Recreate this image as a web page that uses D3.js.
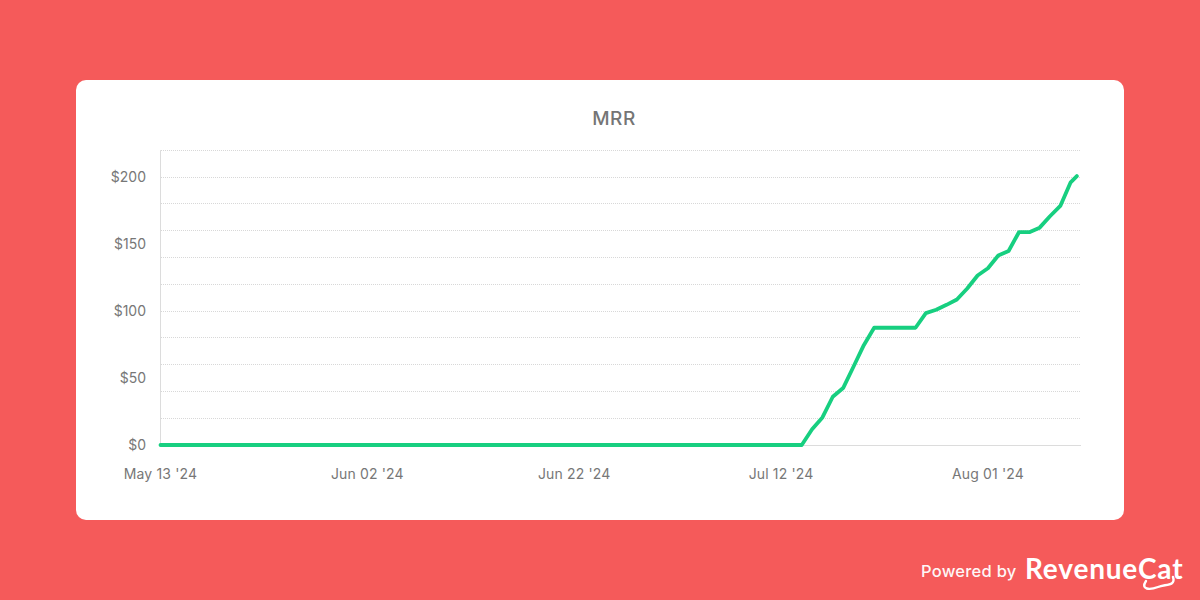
<!DOCTYPE html>
<html><head><meta charset="utf-8">
<script src="https://cdn.jsdelivr.net/npm/d3@7"></script>
<style>html,body{margin:0;padding:0;background:#F55A5A}svg{display:block}text{font-family:Inter,"Open Sans",sans-serif}</style>
</head><body><svg id="c" width="1200" height="600"></svg>
<script>
const title = "MRR";
const dayOffsets = [0,62,63,64,65,66,67,68,69,70,71,72,73,74,75,76,77,78,79,80,81,82,83,84,85,86,87,88,88.6];
const mrrValues = [0,0,11.7,20.6,36,42.5,58.4,74.5,87.5,87.5,87.5,87.5,87.5,98.4,100.9,104.6,108.6,116.8,126.5,131.9,141.4,144.8,158.8,158.8,162.2,170.7,178.4,196,200.7];
const xTickDays = [0,20,40,60,80];
const xTickLabels = ["May 13 '24","Jun 02 '24","Jun 22 '24","Jul 12 '24","Aug 01 '24"];
const yGridValues = [20,40,60,80,100,120,140,160,180,200,220];
const yTickValues = [0,50,100,150,200];

const svg = d3.select("#c");
svg.append("rect").attr("x",76).attr("y",80).attr("width",1048).attr("height",440).attr("rx",10).attr("fill","#fff");
const x = d3.scaleLinear().domain([0,89]).range([160.5,1081]);
const y = d3.scaleLinear().domain([0,220]).range([445,150.2]);

svg.append("text").attr("x",614).attr("y",125).attr("text-anchor","middle").attr("font-size",19).attr("font-weight",500).attr("letter-spacing",.5).attr("fill","#757575").text(title);

svg.append("g").selectAll("line").data(yGridValues).join("line")
  .attr("x1",161).attr("x2",x(89)).attr("y1",d=>Math.floor(y(d))+.5).attr("y2",d=>Math.floor(y(d))+.5)
  .attr("stroke","#d8d8d8").attr("stroke-width",1).attr("stroke-dasharray","1 1");
svg.append("line").attr("x1",x(0)).attr("x2",x(0)).attr("y1",y(220)).attr("y2",y(0)).attr("stroke","#dcdcdc");
svg.append("line").attr("x1",x(0)).attr("x2",x(89)).attr("y1",y(0)+.5).attr("y2",y(0)+.5).attr("stroke","#dcdcdc");

svg.append("g").selectAll("text").data(yTickValues).join("text")
  .attr("x",146).attr("y",d=>y(d)+5).attr("text-anchor","end").attr("font-size",14).attr("fill","#777").text(d=>"$"+d);
svg.append("g").selectAll("text").data(xTickDays).join("text")
  .attr("x",d=>x(d)).attr("y",479).attr("text-anchor","middle").attr("font-size",14).attr("letter-spacing",.15).attr("fill","#777").text((d,i)=>xTickLabels[i]);

const line = d3.line().x((d,i)=>x(d)).y((d,i)=>y(mrrValues[i]));
svg.append("path").attr("d",line(dayOffsets)).attr("fill","none").attr("stroke","#17CF80").attr("stroke-width",3.8).attr("stroke-linejoin","round").attr("stroke-linecap","round");

svg.append("text").attr("x",921).attr("y",577).attr("font-size",16.5).attr("font-weight",500).attr("letter-spacing",.25).attr("fill","#fff").attr("opacity",.95).text("Powered by");
svg.append("text").attr("x",1025).attr("y",579).attr("font-size",28).attr("font-weight",700).attr("fill","#fff").style("font-family","Lato").attr("letter-spacing",.8).text("RevenueCat");
svg.append("path").attr("d","M1146 581 C1140 590 1150 590 1158 587 C1166 584 1176 586 1173 577").attr("fill","none").attr("stroke","#fff").attr("stroke-width",2.4).attr("stroke-linecap","round");
</script></body></html>
